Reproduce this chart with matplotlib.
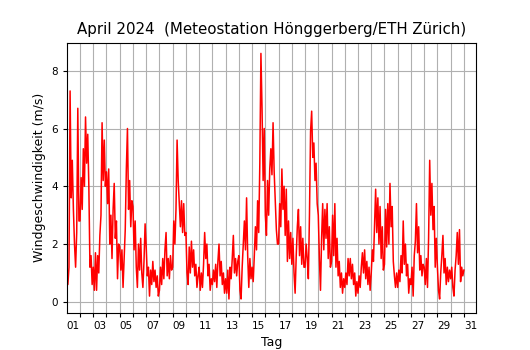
import numpy as np
import matplotlib
matplotlib.use('Agg')
import matplotlib.pyplot as plt

# wind speed (m/s), 2-hourly values per day
apr01 = [1.0, 0.6, 1.2, 7.3, 3.6, 4.9, 3.2, 2.0, 1.2, 2.4, 6.7, 2.8]
apr02 = [2.8, 4.3, 3.2, 5.3, 4.0, 6.4, 4.8, 5.8, 4.0, 1.2, 1.6, 0.6]
apr03 = [1.2, 0.4, 1.7, 0.4, 1.6, 1.0, 2.3, 3.0, 6.2, 4.2, 5.6, 4.0]
apr04 = [4.5, 3.4, 4.6, 2.0, 3.0, 1.5, 3.2, 4.1, 2.2, 2.8, 0.8, 2.0]
apr05 = [1.9, 1.1, 1.8, 0.5, 1.5, 2.5, 4.6, 6.0, 3.2, 4.2, 2.6, 3.5]
apr06 = [3.3, 1.8, 2.8, 1.2, 0.5, 2.0, 1.1, 2.2, 1.0, 0.5, 1.4, 2.7]
apr07 = [1.9, 0.9, 1.2, 0.2, 1.1, 0.6, 1.4, 0.7, 1.1, 0.5, 0.9, 0.2]
apr08 = [0.4, 1.2, 0.6, 1.5, 0.8, 1.8, 2.4, 0.9, 1.5, 0.8, 1.6, 1.1]
apr09 = [1.2, 2.8, 2.0, 3.2, 5.6, 4.2, 3.4, 2.6, 3.5, 2.4, 3.4, 2.3]
apr10 = [2.4, 1.0, 0.6, 1.9, 1.0, 2.1, 1.2, 1.8, 0.9, 1.3, 0.5, 0.9]
apr11 = [1.2, 0.4, 1.0, 0.5, 1.3, 2.4, 1.5, 2.0, 0.9, 1.3, 0.4, 0.8]
apr12 = [0.6, 1.1, 0.7, 1.3, 0.5, 1.4, 2.0, 0.9, 1.4, 0.6, 1.0, 0.3]
apr13 = [0.8, 0.3, 1.1, 0.1, 1.2, 0.8, 1.5, 2.3, 1.0, 1.5, 0.9, 1.4]
apr14 = [1.6, 0.4, 0.1, 1.2, 2.0, 2.8, 1.8, 3.6, 1.6, 0.5, 1.5, 0.8]
apr15 = [1.2, 0.7, 1.6, 2.6, 1.8, 3.5, 2.4, 4.8, 8.6, 6.7, 4.2, 6.0]
apr16 = [3.0, 2.3, 4.2, 3.0, 4.6, 5.3, 4.4, 6.2, 4.5, 3.5, 2.5, 2.0]
apr17 = [2.0, 3.4, 2.6, 4.6, 3.2, 4.0, 2.3, 3.9, 1.4, 2.8, 1.5, 2.4]
apr18 = [1.3, 2.2, 1.0, 0.3, 1.6, 2.6, 3.2, 1.6, 2.6, 1.3, 2.2, 1.2]
apr19 = [1.2, 2.0, 1.5, 0.8, 3.0, 5.9, 6.6, 5.0, 5.5, 4.2, 4.8, 3.4]
apr20 = [3.0, 1.5, 0.4, 2.2, 3.4, 1.8, 3.2, 2.2, 3.4, 1.5, 2.6, 1.2]
apr21 = [1.4, 3.0, 1.6, 3.4, 1.2, 2.2, 0.9, 1.4, 0.5, 1.0, 0.3, 0.8]
apr22 = [0.5, 1.0, 0.6, 1.5, 0.9, 1.5, 0.8, 1.3, 0.6, 1.0, 0.2, 0.7]
apr23 = [0.3, 0.9, 0.5, 1.2, 1.7, 1.0, 1.8, 0.8, 1.4, 0.6, 1.2, 0.4]
apr24 = [1.0, 1.8, 1.4, 2.6, 3.9, 2.4, 3.6, 2.0, 3.3, 1.5, 2.6, 1.1]
apr25 = [1.3, 3.2, 1.9, 3.4, 2.0, 4.1, 2.6, 3.3, 1.4, 0.9, 0.5, 1.0]
apr26 = [0.5, 1.1, 0.7, 1.6, 1.0, 2.8, 1.3, 2.0, 0.9, 1.3, 0.3, 0.8]
apr27 = [0.6, 1.2, 0.2, 1.6, 2.1, 3.4, 1.7, 2.6, 1.1, 1.6, 0.9, 1.3]
apr28 = [1.2, 0.6, 1.5, 0.5, 2.2, 4.9, 3.0, 4.1, 2.5, 3.3, 1.2, 2.2]
apr29 = [1.2, 0.4, 0.1, 1.0, 1.6, 2.3, 1.0, 1.5, 0.6, 1.2, 0.7, 1.1]
apr30 = [0.8, 1.2, 0.5, 0.2, 1.1, 1.6, 2.4, 1.3, 2.5, 0.7, 1.2, 0.9]
may01 = [1.1]

days = [apr01, apr02, apr03, apr04, apr05, apr06, apr07, apr08, apr09, apr10,
        apr11, apr12, apr13, apr14, apr15, apr16, apr17, apr18, apr19, apr20,
        apr21, apr22, apr23, apr24, apr25, apr26, apr27, apr28, apr29, apr30, may01]

v = np.concatenate(days)
t = 1 + np.arange(len(v)) / 12.0   # day of month

fig = plt.figure(figsize=(5.3, 3.5), dpi=100)
fig.subplots_adjust(left=0.126, right=0.899, top=0.878, bottom=0.107)
ax = fig.add_subplot(111)

ax.plot(t, v, color='red', linewidth=1.1)

ax.set_xlim(1, 31.95)
ax.set_ylim(-0.37, 8.97)

# ticks + grid at every day boundary, labels centred on the odd days
ax.set_xticks(np.arange(2, 32))
ax.set_xticklabels([])
ax.set_xticks(np.arange(1.5, 32, 2), minor=True)
ax.set_xticklabels(['%02d' % d for d in range(1, 32, 2)], minor=True, fontsize=7.5)
ax.tick_params(axis='x', which='minor', length=0, pad=6)
ax.tick_params(axis='x', which='major', length=3)
ax.set_yticks([0, 2, 4, 6, 8])
ax.tick_params(axis='y', labelsize=7.5, length=3)
ax.grid(True, which='major', color='#b0b0b0', linewidth=0.8)

ax.set_title('April 2024  (Meteostation Hönggerberg/ETH Zürich)', fontsize=10.8)
ax.set_xlabel('Tag', fontsize=9, labelpad=4)
ax.set_ylabel('Windgeschwindigkeit (m/s)', fontsize=9)

fig.savefig('out.png', dpi=100)
